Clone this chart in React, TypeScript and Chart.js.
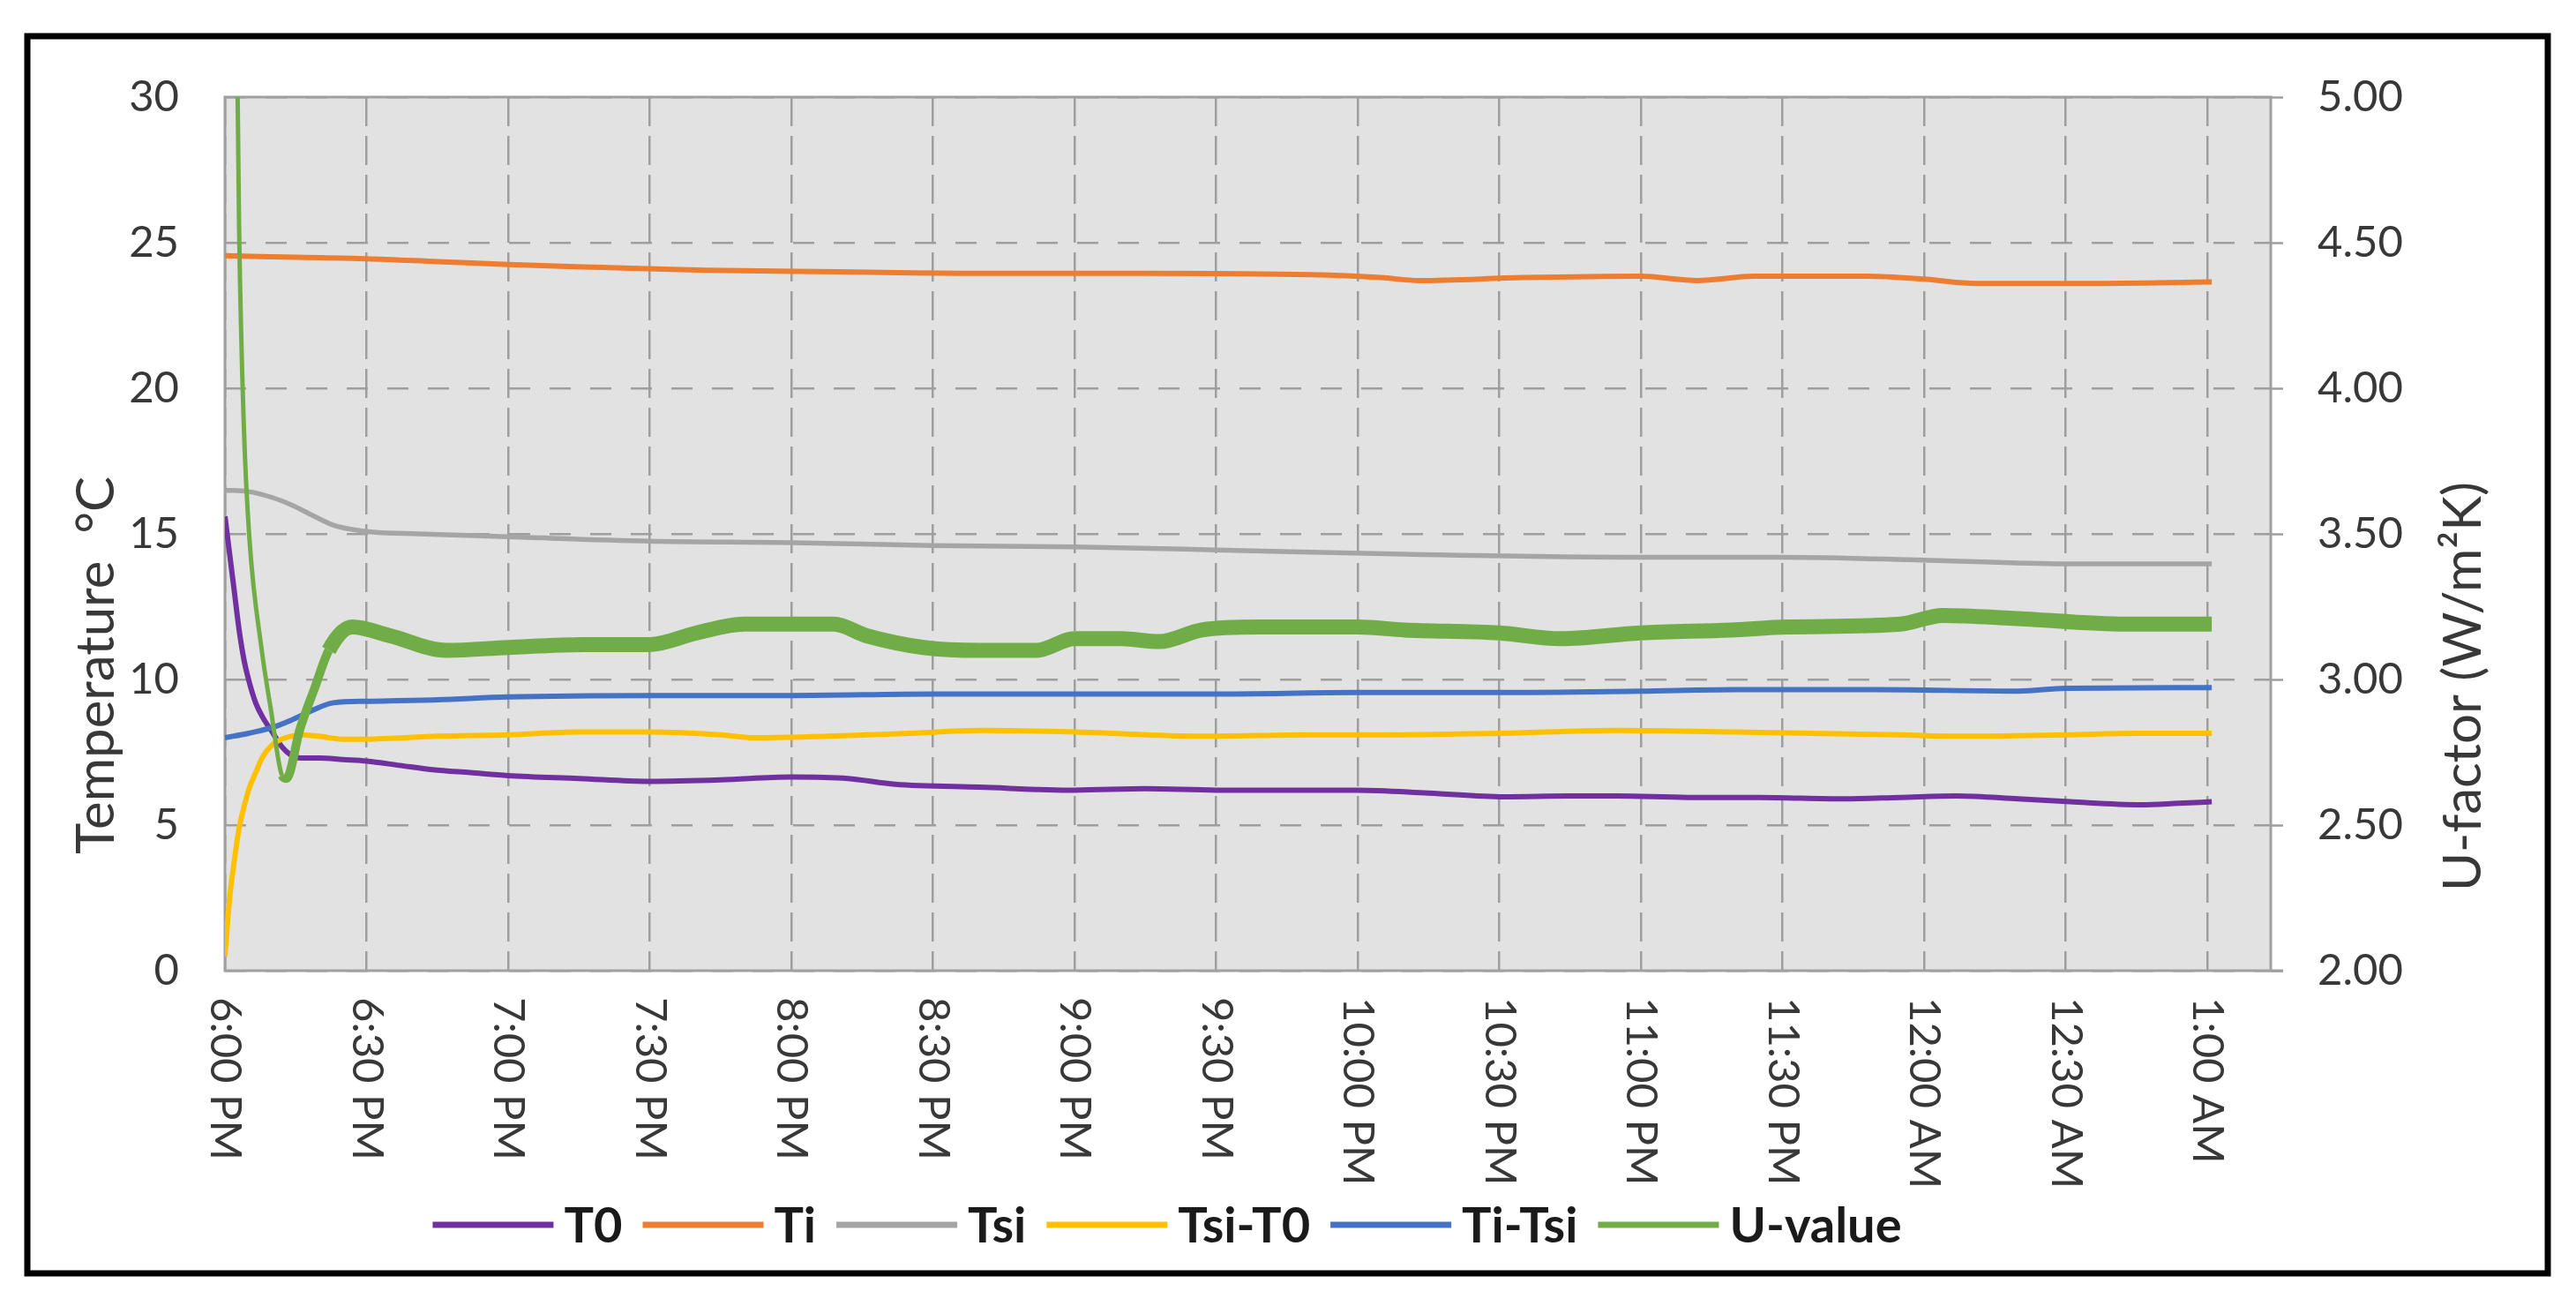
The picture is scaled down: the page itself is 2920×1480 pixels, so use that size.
import React, { useEffect, useRef } from "react";
import { Chart, registerables } from "chart.js";

Chart.register(...registerables);

// ---- Data (minutes after 6:00 PM) ----
const X_TICKS = [0, 30, 60, 90, 120, 150, 180, 210, 240, 270, 300, 330, 360, 390, 420];
const X_LABELS = [
  "6:00 PM", "6:30 PM", "7:00 PM", "7:30 PM", "8:00 PM", "8:30 PM", "9:00 PM", "9:30 PM",
  "10:00 PM", "10:30 PM", "11:00 PM", "11:30 PM", "12:00 AM", "12:30 AM", "1:00 AM",
];

const T0_MIN = [0, 1, 2, 3, 4, 5, 6.5, 8, 10, 12, 14, 16, 20, 25, 30, 37, 44, 52, 60, 75, 90, 105, 120, 132, 142, 160, 180, 195, 210, 225, 240, 255, 271, 285, 295, 310, 325, 343, 355, 367, 380, 391, 406, 414, 421];
const T0_VAL = [15.6, 14.3, 13.0, 11.7, 10.7, 10.0, 9.2, 8.7, 8.2, 7.7, 7.4, 7.3, 7.3, 7.25, 7.2, 7.05, 6.9, 6.8, 6.7, 6.6, 6.5, 6.55, 6.65, 6.6, 6.4, 6.3, 6.2, 6.25, 6.2, 6.2, 6.2, 6.1, 5.97, 6.0, 6.0, 5.95, 5.95, 5.9, 5.95, 6.0, 5.9, 5.8, 5.7, 5.75, 5.8];

const TI_MIN = [0, 15, 30, 45, 60, 80, 102, 130, 159, 195, 230, 245, 253, 275, 300, 312, 324, 348, 360, 371, 395, 421];
const TI_VAL = [24.55, 24.5, 24.45, 24.35, 24.25, 24.15, 24.05, 24.0, 23.95, 23.95, 23.9, 23.8, 23.7, 23.8, 23.85, 23.7, 23.85, 23.85, 23.75, 23.6, 23.6, 23.65];

const TSI_MIN = [0, 5, 10, 14, 19, 23, 27, 32, 41, 60, 90, 120, 150, 180, 210, 250, 300, 330, 360, 390, 421];
const TSI_VAL = [16.5, 16.45, 16.25, 16.0, 15.6, 15.3, 15.15, 15.05, 15.0, 14.9, 14.75, 14.7, 14.6, 14.55, 14.45, 14.3, 14.2, 14.2, 14.1, 13.97, 13.97];

const TSI_T0_MIN = [0, 1, 2, 3, 4, 5, 6.5, 8, 10, 12, 14, 16, 20, 25, 30, 45, 60, 75, 90, 105, 112, 128, 145, 160, 180, 207, 230, 248, 270, 295, 320, 355, 367, 390, 405, 421];
const TSI_T0_VAL = [0.5, 2.5, 3.8, 4.9, 5.6, 6.2, 6.8, 7.35, 7.75, 7.95, 8.05, 8.1, 8.05, 7.95, 7.95, 8.05, 8.1, 8.2, 8.2, 8.1, 8.0, 8.05, 8.15, 8.25, 8.2, 8.05, 8.1, 8.1, 8.15, 8.25, 8.2, 8.1, 8.05, 8.1, 8.15, 8.15];

const TI_TSI_MIN = [0, 5, 10, 14, 18, 23, 30, 45, 60, 90, 120, 150, 180, 210, 240, 270, 300, 320, 350, 380, 390, 421];
const TI_TSI_VAL = [8.0, 8.15, 8.35, 8.6, 8.9, 9.2, 9.25, 9.3, 9.4, 9.45, 9.45, 9.5, 9.5, 9.5, 9.55, 9.55, 9.6, 9.65, 9.65, 9.6, 9.7, 9.72];

const U_MIN = [0, 3, 4, 5.2, 7.8, 9.7, 12.1, 13, 15.9, 19, 22, 27, 35, 47, 60, 76, 90, 100, 110, 120, 129, 136, 148, 160, 172, 180, 190, 198, 207, 219, 240, 250, 270, 283, 300, 319, 331, 355, 364, 379, 403, 421];
const U_VAL = [9.0, 4.55, 3.87, 3.48, 3.10, 2.9, 2.67, 2.66, 2.83, 2.97, 3.10, 3.18, 3.15, 3.10, 3.11, 3.12, 3.12, 3.16, 3.19, 3.19, 3.19, 3.15, 3.11, 3.10, 3.10, 3.14, 3.14, 3.13, 3.17, 3.18, 3.18, 3.17, 3.16, 3.14, 3.16, 3.17, 3.18, 3.19, 3.22, 3.21, 3.19, 3.19];

const SERIES_LABELS = ["T0", "Ti", "Tsi", "Tsi-T0", "Ti-Tsi", "U-value"];
const SERIES_COLORS = ["#7030A0", "#ED7D31", "#A5A5A5", "#FFC000", "#4472C4", "#70AD47"];

const Y_TITLE = "Temperature  \u00B0C";
const Y2_TITLE = "U-factor (W/m\u00B2K)";

const FONT = "Lato, 'Open Sans', sans-serif";
const TEXT_COLOR = "#383838";
const GRID_COLOR = "#9e9e9e";

function pts(xs: number[], ys: number[]) {
  return xs.map((x, i) => ({ x, y: ys[i] }));
}

export default function App() {
  const ref = useRef<HTMLCanvasElement | null>(null);

  useEffect(() => {
    const canvas = ref.current;
    if (!canvas) return;

    const customPlugin = {
      id: "customDraw",
      beforeDraw(chart: any) {
        const { ctx, chartArea: a } = chart;
        ctx.save();
        ctx.fillStyle = "#ffffff";
        ctx.fillRect(0, 0, chart.width, chart.height);
        ctx.fillStyle = "#e2e2e2";
        ctx.fillRect(a.left, a.top, a.right - a.left, a.bottom - a.top);
        ctx.restore();
      },
      beforeDatasetsDraw(chart: any) {
        const { ctx, chartArea: a } = chart;
        ctx.save();
        ctx.setLineDash([]);
        ctx.strokeStyle = "#a0a0a0";
        ctx.lineWidth = 3;
        ctx.strokeRect(a.left, a.top, a.right - a.left, a.bottom - a.top);
        ctx.beginPath();
        ctx.moveTo(a.right, a.bottom);
        ctx.lineTo(a.right + 14, a.bottom);
        ctx.stroke();
        ctx.restore();
      },
      afterDraw(chart: any) {
        const { ctx, chartArea: a, scales } = chart;
        const xs = scales.x;
        ctx.save();
        // X tick labels, rotated clockwise (read top to bottom)
        ctx.font = `49px ${FONT}`;
        ctx.fillStyle = TEXT_COLOR;
        ctx.textAlign = "left";
        ctx.textBaseline = "middle";
        X_TICKS.forEach((v, i) => {
          const px = xs.getPixelForValue(v);
          ctx.save();
          ctx.translate(px, a.bottom + 30);
          ctx.rotate(Math.PI / 2);
          ctx.fillText(X_LABELS[i], 0, 0);
          ctx.restore();
        });

        // Axis titles (both read bottom to top)
        ctx.font = `60px ${FONT}`;
        ctx.textAlign = "center";
        ctx.textBaseline = "middle";
        ctx.save();
        ctx.translate(110, 754);
        ctx.rotate(-Math.PI / 2);
        ctx.fillText(Y_TITLE, 0, 0);
        ctx.restore();
        ctx.save();
        ctx.translate(2793, 778);
        ctx.rotate(-Math.PI / 2);
        ctx.fillText(Y2_TITLE, 0, 0);
        ctx.restore();

        // Legend
        ctx.font = `bold 56px ${FONT}`;
        const lineW = 137;
        const gapLT = 12;
        const gapItem = 23;
        const widths = SERIES_LABELS.map((l) => ctx.measureText(l).width);
        const total =
          widths.reduce((s, w) => s + lineW + gapLT + w, 0) + gapItem * (SERIES_LABELS.length - 1);
        let x = 1323 - total / 2;
        const y = 1388;
        ctx.textAlign = "left";
        SERIES_LABELS.forEach((l, i) => {
          ctx.strokeStyle = SERIES_COLORS[i];
          ctx.lineWidth = 7;
          ctx.setLineDash([]);
          ctx.beginPath();
          ctx.moveTo(x, y);
          ctx.lineTo(x + lineW, y);
          ctx.stroke();
          ctx.fillStyle = "#1a1a1a";
          ctx.fillText(l, x + lineW + gapLT, y + 2);
          x += lineW + gapLT + widths[i] + gapItem;
        });

        // Outer black frame
        ctx.strokeStyle = "#000000";
        ctx.lineWidth = 7;
        ctx.strokeRect(31, 41, 2888 - 31, 1443 - 41);
        ctx.restore();
      },
    };

    const mk = (i: number, data: any[], axis: string, width: number, order: number) => ({
      label: SERIES_LABELS[i],
      data,
      borderColor: SERIES_COLORS[i],
      backgroundColor: SERIES_COLORS[i],
      borderWidth: width,
      pointRadius: 0,
      fill: false,
      yAxisID: axis,
      order,
      cubicInterpolationMode: "monotone" as const,
    });

    const uDataset: any = mk(5, pts(U_MIN, U_VAL), "y2", 17, 1);
    uDataset.segment = {
      borderWidth: (c: any) => {
        const x0 = c.p0.parsed.x;
        if (x0 < 12) return 5;
        if (x0 < 22) return 10;
        return 17;
      },
    };

    const chart = new Chart(canvas, {
      type: "line",
      data: {
        datasets: [
          mk(0, pts(T0_MIN, T0_VAL), "y", 6, 6),
          mk(1, pts(TI_MIN, TI_VAL), "y", 6, 5),
          mk(2, pts(TSI_MIN, TSI_VAL), "y", 5.5, 4),
          mk(3, pts(TSI_T0_MIN, TSI_T0_VAL), "y", 6, 3),
          mk(4, pts(TI_TSI_MIN, TI_TSI_VAL), "y", 6, 2),
          uDataset,
        ],
      },
      options: {
        responsive: false,
        maintainAspectRatio: false,
        animation: false,
        layout: { padding: { left: 40, right: 40, top: 110, bottom: 40 } },
        plugins: {
          legend: { display: false },
          tooltip: { enabled: false },
        },
        scales: {
          x: {
            type: "linear",
            min: 0,
            max: 433.5,
            afterBuildTicks: (s: any) => {
              s.ticks = X_TICKS.map((v) => ({ value: v }));
            },
            afterFit: (s: any) => {
              s.height = 340;
            },
            ticks: { display: false },
            grid: { color: GRID_COLOR, lineWidth: 2.5, drawTicks: false },
            border: { display: false, dash: [33, 11] },
          },
          y: {
            position: "left",
            min: 0,
            max: 30,
            afterFit: (s: any) => {
              s.width = 215;
            },
            ticks: {
              stepSize: 5,
              padding: 52,
              color: TEXT_COLOR,
              font: { family: FONT, size: 49 },
            },
            grid: { color: GRID_COLOR, lineWidth: 2.5, drawTicks: false },
            border: { display: false, dash: [24, 22] },
          },
          y2: {
            position: "right",
            min: 2,
            max: 5,
            afterFit: (s: any) => {
              s.width = 306;
            },
            ticks: {
              stepSize: 0.5,
              padding: 39,
              color: TEXT_COLOR,
              font: { family: FONT, size: 49 },
              callback: (v: any) => Number(v).toFixed(2),
            },
            grid: {
              drawOnChartArea: false,
              drawTicks: true,
              tickLength: 14,
              tickColor: GRID_COLOR,
              tickWidth: 2.5,
            },
            border: { display: false },
          },
        },
      } as any,
      plugins: [customPlugin],
    });

    return () => {
      chart.destroy();
    };
  }, []);

  return (
    <div style={{ position: "fixed", left: 0, top: 0, width: 2920, height: 1480, background: "#fff" }}>
      <canvas ref={ref} width={2920} height={1480} style={{ display: "block", width: 2920, height: 1480 }} />
    </div>
  );
}
